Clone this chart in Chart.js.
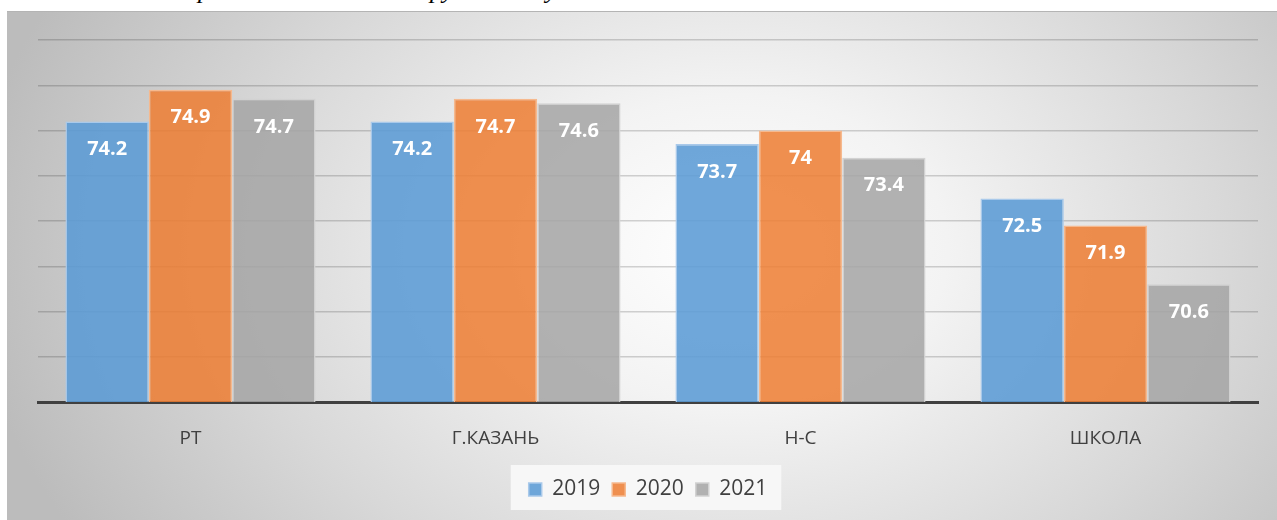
<!DOCTYPE html>
<html>
<head>
<meta charset="utf-8">
<script src="https://cdn.jsdelivr.net/npm/chart.js@4.4.1/dist/chart.umd.min.js"></script>
<style>
  html, body { margin: 0; padding: 0; background: #ffffff; overflow: hidden; }
  #page { position: relative; width: 1277px; height: 520px; overflow: hidden; }
  #box {
    position: absolute; left: 7px; top: 11px; width: 1275px; height: 530px;
    border-top: 1px solid #b4b4b4;
    background: radial-gradient(ellipse 60% 105% at 57% 45%, #ffffff 0%, #f3f3f3 28%, #d8d8d8 65%, #bcbcbc 100%);
  }
  .cut {
    position: absolute; top: -23px; line-height: 26px;
    font-family: "Liberation Serif", serif; font-style: italic; font-size: 26px; color: #000;
  }
  #chart { position: absolute; left: 0; top: 0; }
</style>
</head>
<body>
<div id="page">
  <span class="cut" style="left:198px">р</span>
  <span class="cut" style="left:430px">ру</span>
  <span class="cut" style="left:546px">у</span>
  <div id="box"></div>
  <canvas id="chart" width="1277" height="520"></canvas>
</div>
<script>
var categories = ['РТ', 'Г.КАЗАНЬ', 'Н-С', 'ШКОЛА'];
var years = ['2019', '2020', '2021'];
var values2019 = [74.2, 74.2, 73.7, 72.5];
var values2020 = [74.9, 74.7, 74, 71.9];
var values2021 = [74.7, 74.6, 73.4, 70.6];
var yMin = 68;
var yMax = 76;
var yStep = 1;

var fills = ['rgba(91,155,213,0.88)', 'rgba(237,125,49,0.85)', 'rgba(165,165,165,0.85)'];
var edges = ['#a9c9ea', '#f6b98e', '#d2d2d2'];

// white value labels inside the top of each bar
var barLabels = {
    id: 'barLabels',
    afterDatasetsDraw: function (chart) {
        var ctx = chart.ctx;
        ctx.save();
        ctx.fillStyle = '#ffffff';
        ctx.font = 'bold 20px "Open Sans"';
        ctx.textAlign = 'center';
        ctx.textBaseline = 'middle';
        chart.data.datasets.forEach(function (ds, i) {
            chart.getDatasetMeta(i).data.forEach(function (bar, j) {
                ctx.fillText(String(ds.data[j]), bar.x, bar.y + 28);
            });
        });
        ctx.restore();
    }
};

// light panel behind the legend
var legendPanel = {
    id: 'legendPanel',
    beforeDraw: function (chart) {
        var lg = chart.legend;
        if (!lg || !lg.legendHitBoxes || !lg.legendHitBoxes.length) return;
        var left = Infinity, right = -Infinity;
        lg.legendHitBoxes.forEach(function (h) {
            left = Math.min(left, h.left);
            right = Math.max(right, h.left + h.width);
        });
        var ctx = chart.ctx;
        ctx.save();
        ctx.fillStyle = 'rgba(248,248,248,0.95)';
        ctx.fillRect(left - 18, lg.top - 2, right - left + 32, lg.height + 2);
        ctx.restore();
    }
};

new Chart(document.getElementById('chart'), {
    type: 'bar',
    data: {
        labels: categories,
        datasets: [values2019, values2020, values2021].map(function (vals, i) {
            return {
                label: years[i],
                data: vals,
                backgroundColor: fills[i],
                borderColor: edges[i],
                borderWidth: 1.5,
                borderSkipped: 'bottom',
                categoryPercentage: 0.82,
                barPercentage: 1.0
            };
        })
    },
    options: {
        responsive: false,
        animation: false,
        devicePixelRatio: 1,
        layout: { padding: { left: 38, right: 19, top: 40, bottom: 10 } },
        scales: {
            x: {
                grid: { display: false, drawTicks: false },
                border: { display: true, color: '#404040', width: 3 },
                ticks: { color: '#404040', font: { family: 'Open Sans', size: 19 }, padding: 25 },
                afterFit: function (scale) { scale.height = 65; }
            },
            y: {
                min: yMin,
                max: yMax,
                ticks: { display: false, stepSize: yStep },
                grid: { color: 'rgba(0,0,0,0.17)', lineWidth: 1.5, drawTicks: false },
                border: { display: false },
                afterFit: function (scale) { scale.width = 0; }
            }
        },
        plugins: {
            tooltip: { enabled: false },
            legend: {
                position: 'bottom',
                labels: {
                    boxWidth: 13,
                    boxHeight: 13,
                    padding: 12,
                    color: '#404040',
                    font: { family: 'Open Sans', size: 21 }
                }
            }
        }
    },
    plugins: [barLabels, legendPanel]
});
</script>
</body>
</html>
